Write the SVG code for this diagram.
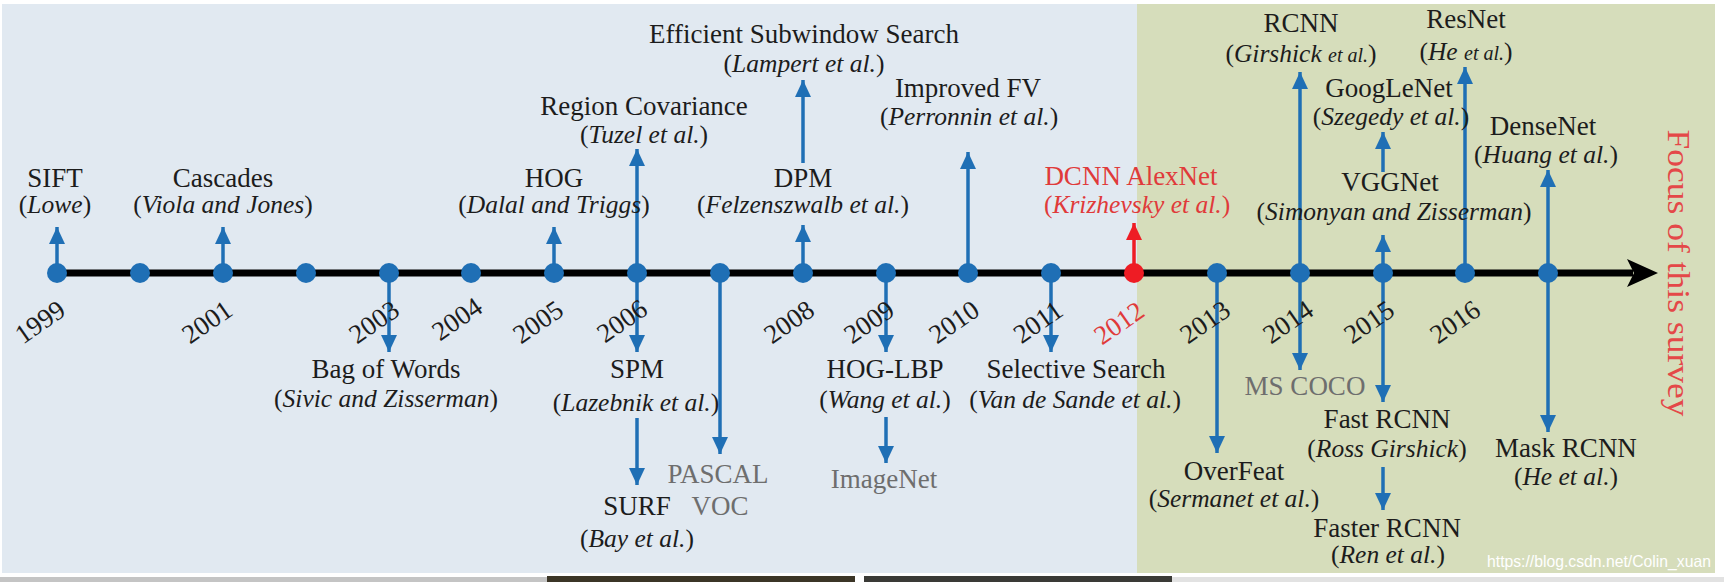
<svg xmlns="http://www.w3.org/2000/svg" width="1724" height="582" viewBox="0 0 1724 582">
<style>
text{font-family:"Liberation Serif","Times New Roman",serif;fill:#1c1c1c;text-anchor:middle}
.t{font-size:27px}
.s{font-size:25.5px}
.i{font-style:italic}
.sm{font-size:20px}
.g{fill:#6e6e6e}
.r{fill:#e03a3a}
.y{font-size:27px}
.ar{stroke:#1f6fb5;stroke-width:3.5;fill:none;marker-end:url(#ah)}
.arr{stroke:#ee1c24;stroke-width:3.5;fill:none;marker-end:url(#ahr)}
.dot{fill:#1f6fb5}
</style>
<defs>
<marker id="ah" markerUnits="userSpaceOnUse" markerWidth="17" markerHeight="16" refX="17" refY="8" orient="auto"><path d="M0,0 L17,8 L0,16 z" fill="#1f6fb5"/></marker>
<marker id="ahr" markerUnits="userSpaceOnUse" markerWidth="17" markerHeight="16" refX="17" refY="8" orient="auto"><path d="M0,0 L17,8 L0,16 z" fill="#ee1c24"/></marker>
</defs>
<rect x="0" y="0" width="1724" height="582" fill="#ffffff"/>
<rect x="2" y="4" width="1135" height="569" fill="#e1e9f1"/>
<rect x="1137" y="4" width="578" height="569" fill="#d6ddbb"/>
<rect x="0" y="577" width="547" height="5" fill="#c4c4c4"/>
<rect x="547" y="576" width="308" height="6" fill="#3b3526"/>
<rect x="864" y="576" width="308" height="6" fill="#3a3a36"/>
<rect x="1172" y="577" width="552" height="5" fill="#e2e2e2"/>

<g id="timeline">
<line x1="57" y1="273" x2="1633" y2="273" stroke="#000" stroke-width="7"/>
<polygon points="1658,273 1627,259 1634,273 1627,287" fill="#000"/>
</g>

<g id="connectors">
<line class="ar" x1="57" y1="273" x2="57" y2="227"/>
<line class="ar" x1="223" y1="273" x2="223" y2="227"/>
<line class="ar" x1="554" y1="273" x2="554" y2="227"/>
<line class="ar" x1="637" y1="273" x2="637" y2="149"/>
<line class="ar" x1="803" y1="273" x2="803" y2="225"/>
<line class="ar" x1="803" y1="163" x2="803" y2="80"/>
<line class="ar" x1="968" y1="273" x2="968" y2="152"/>
<line class="arr" x1="1134" y1="273" x2="1134" y2="223"/>
<line class="ar" x1="1300" y1="273" x2="1300" y2="72"/>
<line class="ar" x1="1383" y1="172" x2="1383" y2="132"/>
<line class="ar" x1="1383" y1="273" x2="1383" y2="235"/>
<line class="ar" x1="1465" y1="273" x2="1465" y2="67"/>
<line class="ar" x1="1548" y1="273" x2="1548" y2="170"/>
<line class="ar" x1="389" y1="273" x2="389" y2="352"/>
<line class="ar" x1="637" y1="273" x2="637" y2="352"/>
<line class="ar" x1="637" y1="418" x2="637" y2="485"/>
<line class="ar" x1="720" y1="273" x2="720" y2="454"/>
<line class="ar" x1="886" y1="273" x2="886" y2="352"/>
<line class="ar" x1="886" y1="417" x2="886" y2="463"/>
<line class="ar" x1="1051" y1="273" x2="1051" y2="352"/>
<line class="ar" x1="1217" y1="273" x2="1217" y2="453"/>
<line class="ar" x1="1300" y1="273" x2="1300" y2="370"/>
<line class="ar" x1="1383" y1="273" x2="1383" y2="402"/>
<line class="ar" x1="1383" y1="467" x2="1383" y2="510"/>
<line class="ar" x1="1548" y1="273" x2="1548" y2="432"/>
</g>

<g id="dots">
<circle class="dot" cx="57" cy="273" r="10"/>
<circle class="dot" cx="140" cy="273" r="10"/>
<circle class="dot" cx="223" cy="273" r="10"/>
<circle class="dot" cx="306" cy="273" r="10"/>
<circle class="dot" cx="389" cy="273" r="10"/>
<circle class="dot" cx="471" cy="273" r="10"/>
<circle class="dot" cx="554" cy="273" r="10"/>
<circle class="dot" cx="637" cy="273" r="10"/>
<circle class="dot" cx="720" cy="273" r="10"/>
<circle class="dot" cx="803" cy="273" r="10"/>
<circle class="dot" cx="886" cy="273" r="10"/>
<circle class="dot" cx="968" cy="273" r="10"/>
<circle class="dot" cx="1051" cy="273" r="10"/>
<circle cx="1134" cy="273" r="10" fill="#ee1c24"/>
<circle class="dot" cx="1217" cy="273" r="10"/>
<circle class="dot" cx="1300" cy="273" r="10"/>
<circle class="dot" cx="1383" cy="273" r="10"/>
<circle class="dot" cx="1465" cy="273" r="10"/>
<circle class="dot" cx="1548" cy="273" r="10"/>
</g>

<g id="years">
<text class="y" transform="translate(40,322) rotate(-35)" y="9">1999</text>
<text class="y" transform="translate(207,322) rotate(-35)" y="9">2001</text>
<text class="y" transform="translate(374,322) rotate(-35)" y="9">2003</text>
<text class="y" transform="translate(457,319) rotate(-35)" y="9">2004</text>
<text class="y" transform="translate(538,322) rotate(-35)" y="9">2005</text>
<text class="y" transform="translate(622,321) rotate(-35)" y="9">2006</text>
<text class="y" transform="translate(789,322) rotate(-35)" y="9">2008</text>
<text class="y" transform="translate(869,322) rotate(-35)" y="9">2009</text>
<text class="y" transform="translate(954,322) rotate(-35)" y="9">2010</text>
<text class="y" transform="translate(1038,322) rotate(-35)" y="9">2011</text>
<text class="y r" transform="translate(1119,323) rotate(-35)" y="9">2012</text>
<text class="y" transform="translate(1205,322) rotate(-35)" y="9">2013</text>
<text class="y" transform="translate(1288,322) rotate(-35)" y="9">2014</text>
<text class="y" transform="translate(1369,322) rotate(-35)" y="9">2015</text>
<text class="y" transform="translate(1455,322) rotate(-35)" y="9">2016</text>
</g>

<g id="sift"><text class="t" x="55" y="187">SIFT</text><text class="s" x="55" y="213">(<tspan class="i">Lowe</tspan>)</text></g>
<g id="cascades"><text class="t" x="223" y="187">Cascades</text><text class="s" x="223" y="213">(<tspan class="i">Viola and Jones</tspan>)</text></g>
<g id="hog"><text class="t" x="554" y="187">HOG</text><text class="s" x="554" y="213">(<tspan class="i">Dalal and Triggs</tspan>)</text></g>
<g id="regcov"><text class="t" x="644" y="115">Region Covariance</text><text class="s" x="644" y="143">(<tspan class="i">Tuzel et al.</tspan>)</text></g>
<g id="ess"><text class="t" x="804" y="43">Efficient Subwindow Search</text><text class="s" x="804" y="72">(<tspan class="i">Lampert et al.</tspan>)</text></g>
<g id="dpm"><text class="t" x="803" y="187">DPM</text><text class="s" x="803" y="213">(<tspan class="i">Felzenszwalb et al.</tspan>)</text></g>
<g id="ifv"><text class="t" x="968" y="97">Improved FV</text><text class="s" x="969" y="125">(<tspan class="i">Perronnin et al.</tspan>)</text></g>
<g id="alexnet"><text class="t r" x="1131" y="185">DCNN AlexNet</text><text class="s r" x="1137" y="213">(<tspan class="i">Krizhevsky et al.</tspan>)</text></g>
<g id="rcnn"><text class="t" x="1301" y="32">RCNN</text><text class="s" x="1301" y="62">(<tspan class="i">Girshick <tspan class="sm">et al.</tspan></tspan>)</text></g>
<g id="resnet"><text class="t" x="1466" y="28">ResNet</text><text class="s" x="1466" y="60">(<tspan class="i">He <tspan class="sm">et al.</tspan></tspan>)</text></g>
<g id="googlenet"><text class="t" x="1389" y="97">GoogLeNet</text><text class="s" x="1391" y="125">(<tspan class="i">Szegedy et al.</tspan>)</text></g>
<g id="densenet"><text class="t" x="1543" y="135">DenseNet</text><text class="s" x="1546" y="163">(<tspan class="i">Huang et al.</tspan>)</text></g>
<g id="vggnet"><text class="t" x="1390" y="191">VGGNet</text><text class="s" x="1394" y="220">(<tspan class="i">Simonyan and Zisserman</tspan>)</text></g>
<g id="focus"><text fill="#e44848" style="fill:#e44848" font-size="32" transform="translate(1668,273) rotate(90)" textLength="287" lengthAdjust="spacingAndGlyphs">Focus of this survey</text></g>

<g id="bow"><text class="t" x="386" y="378">Bag of Words</text><text class="s" x="386" y="407">(<tspan class="i">Sivic and Zisserman</tspan>)</text></g>
<g id="spm"><text class="t" x="637" y="378">SPM</text><text class="s" x="636" y="411">(<tspan class="i">Lazebnik et al.</tspan>)</text></g>
<g id="surf"><text class="t" x="637" y="515">SURF</text><text class="s" x="637" y="547">(<tspan class="i">Bay et al.</tspan>)</text></g>
<g id="pascal"><text class="t g" x="718" y="483">PASCAL</text><text class="t g" x="720" y="515">VOC</text></g>
<g id="hoglbp"><text class="t" x="885" y="378">HOG-LBP</text><text class="s" x="885" y="408">(<tspan class="i">Wang et al.</tspan>)</text></g>
<g id="imagenet"><text class="t g" x="884" y="488">ImageNet</text></g>
<g id="selsearch"><text class="t" x="1076" y="378">Selective Search</text><text class="s" x="1075" y="408">(<tspan class="i">Van de Sande et al.</tspan>)</text></g>
<g id="overfeat"><text class="t" x="1234" y="480">OverFeat</text><text class="s" x="1234" y="507">(<tspan class="i">Sermanet et al.</tspan>)</text></g>
<g id="mscoco"><text class="t g" x="1305" y="395">MS COCO</text></g>
<g id="fastrcnn"><text class="t" x="1387" y="428">Fast RCNN</text><text class="s" x="1387" y="457">(<tspan class="i">Ross Girshick</tspan>)</text></g>
<g id="fasterrcnn"><text class="t" x="1387" y="537">Faster RCNN</text><text class="s" x="1388" y="563">(<tspan class="i">Ren et al.</tspan>)</text></g>
<g id="maskrcnn"><text class="t" x="1566" y="457">Mask RCNN</text><text class="s" x="1566" y="485">(<tspan class="i">He et al.</tspan>)</text></g>
<text x="1599" y="567" font-size="16.5" style="font-family:'Liberation Sans',Arial,sans-serif;fill:#ffffff" textLength="224" lengthAdjust="spacingAndGlyphs">https://blog.csdn.net/Colin_xuan</text>
</svg>
